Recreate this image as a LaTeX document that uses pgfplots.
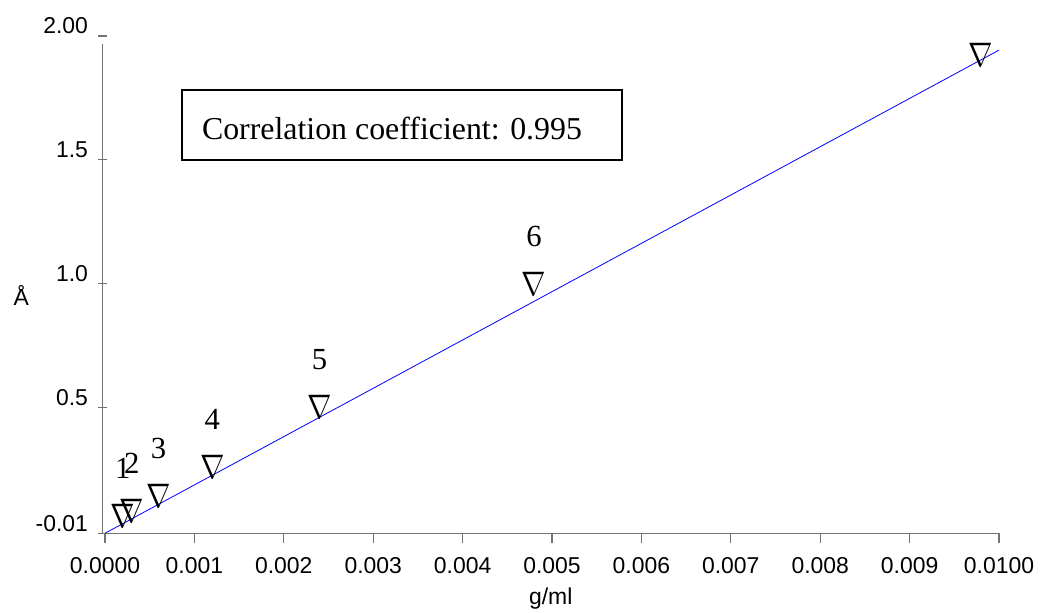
\documentclass[border=0pt]{standalone}
\usepackage{fontspec}
\setmainfont{Liberation Sans}
\newfontfamily\serif{Liberation Serif}
\usepackage{pgfplots}
\pgfplotsset{compat=1.18}

% calibration points: concentration (g/ml) vs absorbance
\pgfplotstableread{
x       y      lab
0.0002  0.061  1
0.0003  0.083  2
0.0006  0.141  3
0.0012  0.259  4
0.0024  0.503  5
0.0048  0.998  6
}\calib

\newcommand{\nablamark}{\scalebox{2.2}[2.55]{$\nabla$}}

\begin{document}
\begin{tikzpicture}
\useasboundingbox (0,0) rectangle (789pt,459.75pt);
\begin{axis}[
  at={(76.875pt,59.625pt)}, anchor=south west,
  scale only axis, width=672.375pt, height=373.125pt,
  xmin=-0.000028, xmax=0.01, ymin=-0.01, ymax=2.0,
  axis x line*=bottom, axis y line*=left,
  y axis line style={draw=none},
  x axis line style={draw=black!55, line width=0.8pt},
  every tick/.style={draw=black!55, line width=0.8pt},
  major tick length=7.5pt,
  xtick align=outside, ytick align=center,
  xtick={0,0.001,...,0.0101},
  xticklabels={0.0000,0.001,0.002,0.003,0.004,0.005,0.006,0.007,0.008,0.009,0.0100},
  ytick={-0.01,0.5,1.0,1.5,2.0},
  yticklabels={-0.01,0.5,1.0,1.5,2.00},
  scaled x ticks=false,
  /pgf/number format/assume math mode=true,
  tick label style={font=\fontsize{17.2}{20}\selectfont, inner sep=0pt},
  xticklabel style={anchor=north, yshift=-10.6pt},
  yticklabel style={anchor=east, xshift=-7pt, yshift=7.5pt},
  xlabel={g/ml},
  xlabel style={font=\fontsize{17.2}{20}\selectfont, at={(rel axis cs:0.5,0)}, anchor=center, yshift=-48.75pt, inner sep=0pt},
  ylabel={Å},
  ylabel style={font=\fontsize{17.2}{20}\selectfont, rotate=-90, at={(rel axis cs:0,0.479)}, anchor=center, xshift=-61pt, inner sep=0pt},
  clip=false,
]
% linear fit
\addplot[blue, line width=0.6pt] coordinates {(0,-0.009) (0.01,1.943)};
% labelled standards
\addplot[only marks, mark=text, text mark={\nablamark}, text mark as node=true,
  text mark style={inner sep=0pt, anchor=center},
  nodes near coords, point meta=explicit symbolic,
  every node near coord/.append style={font=\serif\fontsize{23}{27}\selectfont, anchor=center, yshift=35.5pt, inner sep=0pt}]
  table[x=x, y=y, meta=lab] {\calib};
% highest standard, unlabelled
\addplot[only marks, mark=text, text mark={\nablamark}, text mark as node=true,
  text mark style={inner sep=0pt, anchor=center}]
  coordinates {(0.0098,1.923)};
% y axis line stops just short of the top tick
\draw[black!55, line width=0.8pt] (rel axis cs:0,0) -- (rel axis cs:0,0.984);
\end{axis}
% correlation box
\draw[line width=1.1pt] (136.5pt,339.75pt) rectangle (466.5pt,392.25pt);
\node[anchor=base west, inner sep=0pt, font=\serif\fontsize{23.9}{28}\selectfont] at (151.3pt,354.75pt) {Correlation coefficient: 0.995};
\end{tikzpicture}
\end{document}
